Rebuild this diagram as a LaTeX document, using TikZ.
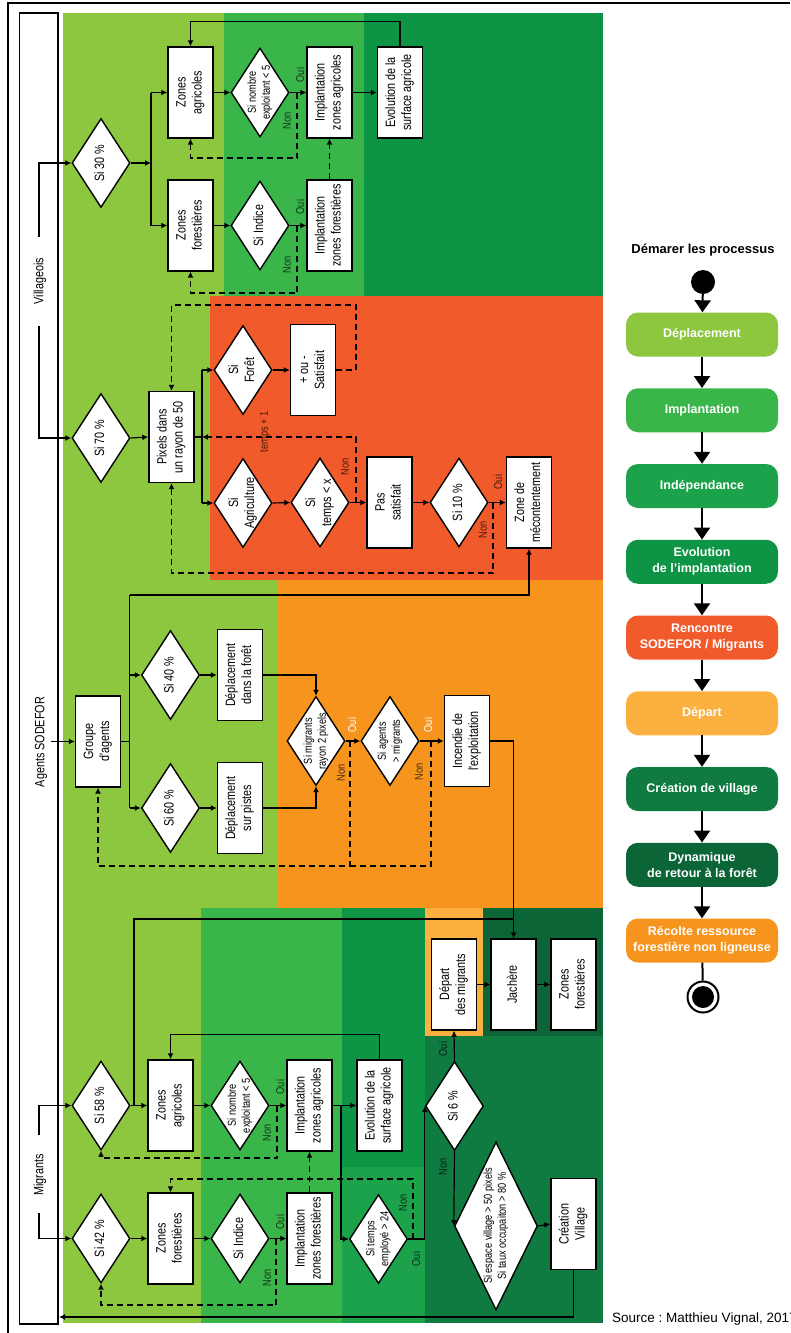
\documentclass[tikz,border=0pt]{standalone}
\usepackage{graphicx}
\usepackage{fontspec}
\setmainfont{Liberation Sans}
\newfontfamily\nar[FakeStretch=0.8]{Liberation Sans}
\usetikzlibrary{shapes.geometric,arrows.meta}
\definecolor{cDep}{HTML}{8DC63F}
\definecolor{cImp}{HTML}{3AB54A}
\definecolor{cInd}{HTML}{1BA24B}
\definecolor{cEvo}{HTML}{0E9445}
\definecolor{cRen}{HTML}{F15A2B}
\definecolor{cDpt}{HTML}{FBB040}
\definecolor{cCre}{HTML}{0F7B41}
\definecolor{cDyn}{HTML}{0B6536}
\definecolor{cRec}{HTML}{F7941D}
\newcommand\rtx[1]{\smash{\makebox[0pt]{\raisebox{-0.5\height}{\rotatebox{90}{\begin{tabular}{@{}c@{}}#1\end{tabular}}}}}}
\frenchspacing
\tikzset{
 ln/.style={line width=1.2pt},
 dsh/.style={line width=1.2pt, dash pattern=on 6pt off 4pt},
 bx/.style={draw, fill=white, line width=1.4pt, rectangle, minimum width=45pt, minimum height=91pt, inner sep=0pt, font={\nar\fontsize{13.5}{16}\selectfont}},
 dm/.style={draw, fill=white, line width=1.4pt, diamond, minimum width=58pt, minimum height=89pt, inner sep=0pt, font={\nar\fontsize{13.5}{16}\selectfont}},
 sm/.style={font={\nar\fontsize{11.5}{14}\selectfont}},
 lbl/.style={rotate=90, inner sep=0pt, font={\nar\fontsize{11.5}{13}\selectfont}, text opacity=0.7},
 wlbl/.style={rotate=90, inner sep=0pt, font={\nar\fontsize{11.5}{13}\selectfont}, text=white},
 lanetxt/.style={rotate=90, inner sep=0pt, font={\nar\fontsize{13.5}{16}\selectfont}},
 pill/.style={rounded corners=12pt, minimum width=152pt, minimum height=44pt, inner sep=0pt, text=white, align=center, font={\bfseries\fontsize{12.5}{16}\selectfont}},
 larr/.style={line width=2pt, -{Triangle[length=12pt,width=16pt]}},
}
\begin{document}
\begin{tikzpicture}[x=1pt,y=-1pt,>={Latex[length=6pt,width=6pt]}]
\useasboundingbox (0,0) rectangle (790,1333);
\fill[white] (0,0) rectangle (790,1333);
% backgrounds
\fill[cDep] (63,13) rectangle (603,1323);
\fill[cImp] (224,13) rectangle (364,296);
\fill[cEvo] (364,13) rectangle (603,296);
\fill[cRen] (210,296) rectangle (603,580);
\fill[cRec] (278,580) rectangle (603,908);
\fill[cImp] (201,908) rectangle (342,1323);
\fill[cEvo] (342,908) rectangle (425,1167);
\fill[cInd] (342,1167) rectangle (425,1323);
\fill[cDpt] (425,908) rectangle (482.5,1036);
\fill[cDyn] (482.5,908) rectangle (603,1036);
\fill[cCre] (425,1036) rectangle (603,1323);
% frame
\draw[line width=1.5pt] (8,1333) -- (8,3) -- (790,3);
\node[draw, fill=white, line width=1.2pt, minimum width=38.5pt, minimum height=1311pt, inner sep=0pt] (lane) at (38.75,668.5) {};
\node[lanetxt] (lv) at (40,281) {Villageois};
\node[lanetxt] (ls) at (41,742) {Agents SODEFOR};
\node[lanetxt] (lm) at (40,1175) {Migrants};

% ===== Villageois 30 %
\node[dm] (s30) at (101,163) {\rtx{Si 30 \%}};
\node[bx] (za1) at (190.5,92.5) {\rtx{Zones\\agricoles}};
\node[dm,sm] (sn1) at (260,92.5) {\rtx{Si nombre\\exploitant < 5}};
\node[bx] (iza1) at (329.5,92.5) {\rtx{Implantation\\zones agricoles}};
\node[bx] (ev1) at (400,92.5) {\rtx{Evolution de la\\surface agricole}};
\node[bx] (zf1) at (190.5,225.5) {\rtx{Zones\\forestières}};
\node[dm] (si1) at (260,225.5) {\rtx{Si Indice}};
\node[bx] (izf1) at (329.5,225.5) {\rtx{Implantation\\zones forestières}};

\coordinate (v1) at (39,237);
\draw[ln,->] (v1) |- (s30.west);
\coordinate (b1) at (151,163);
\draw[ln,->] (s30.east) -- (b1);
\draw[ln] (za1.west -| b1) -- (zf1.west -| b1);
\draw[ln,->] (za1.west -| b1) -- (za1.west);
\draw[ln,->] (zf1.west -| b1) -- (zf1.west);
\draw[ln,->] (za1.east) -- (sn1.west);
\draw[ln,->] (sn1.east) -- (iza1.west);
\coordinate (n1) at (297,92.5);
\draw[dsh,->] (n1) -- ++(0,65.5) -| (za1.south);
\draw[ln,->] (iza1.east) -- (ev1.west);
\draw[ln,->] (ev1.north) -- ++(0,-25) -| (za1.north);
\draw[ln,->] (zf1.east) -- (si1.west);
\draw[ln,->] (si1.east) -- (izf1.west);
\coordinate (n2) at (297,225.5);
\draw[dsh,->] (n2) -- ++(0,67.5) -| (zf1.south);
\draw[dsh,->] (izf1.north) -- (iza1.south);
\node[lbl] (o1) at (300,75) {Oui};
\node[lbl] (x1) at (287,121) {Non};
\node[lbl] (o2) at (300,207) {Oui};
\node[lbl] (x2) at (287,265) {Non};

% ===== Villageois 70 %
\node[dm] (s70) at (101,438) {\rtx{Si 70 \%}};
\node[bx] (pix) at (171.5,437) {\rtx{Pixels dans\\un rayon de 50}};
\node[dm] (sfo) at (243,370) {\rtx{Si\\Forêt}};
\node[bx] (sat) at (313,370) {\rtx{+ ou -\\Satisfait}};
\node[dm] (sag) at (243,503) {\rtx{Si\\Agriculture}};
\node[dm] (stx) at (320,502.5) {\rtx{Si\\temps < x}};
\node[bx] (pas) at (389.5,502.5) {\rtx{Pas\\satisfait}};
\node[dm] (s10) at (459,502.5) {\rtx{Si 10 \%}};
\node[bx] (zdm) at (529,502.5) {\rtx{Zone de\\mécontentement}};

\coordinate (v2) at (39,326);
\draw[ln,->] (v2) |- (s70.west);
\draw[ln,->] (s70.east) -- (pix.west);
\coordinate (b2) at (202,437);
\draw[ln] (pix.east) -- (b2);
\draw[ln] (sfo.west -| b2) -- (sag.west -| b2);
\draw[ln,->] (sfo.west -| b2) -- (sfo.west);
\draw[ln,->] (sag.west -| b2) -- (sag.west);
\draw[ln,->] (sfo.east) -- (sat.west);
\coordinate (d1) at (356,305);
\draw[dsh,->] (sat.east) -| (d1) -| (pix.north);
\draw[ln,->] (sag.east) -- (stx.west);
\draw[ln,->] (stx.east) -- (pas.west);
\coordinate (n3) at (356,502.5);
\draw[dsh,->] (n3) |- (b2);
\node[lbl] (t1) at (265,432) {temps + 1};
\node[lbl] (x3) at (345,467) {Non};
\draw[ln,->] (pas.east) -- (s10.west);
\draw[ln,->] (s10.east) -- (zdm.west);
\coordinate (n4) at (493,502.5);
\coordinate (d2) at (171.5,573);
\draw[dsh,->] (n4) |- (d2) -- (pix.south);
\node[lbl] (o3) at (498,482) {Oui};
\node[lbl] (x4) at (483,530) {Non};

% ===== SODEFOR
\node[bx] (grp) at (98,741.5) {\rtx{Groupe\\d'agents}};
\node[dm] (s40) at (170.5,675) {\rtx{Si 40 \%}};
\node[bx] (ddf) at (240,675) {\rtx{Déplacement\\dans la forêt}};
\node[dm] (s60) at (170.5,808) {\rtx{Si 60 \%}};
\node[bx] (dsp) at (240,808) {\rtx{Déplacement\\sur pistes}};
\node[dm,sm] (smg) at (316,741) {\rtx{Si migrants\\rayon 2 pixels}};
\node[dm,sm] (sam) at (390,741) {\rtx{Si agents\\> migrants}};
\node[bx] (inc) at (467,741) {\rtx{Incendie de\\l'exploitation}};

\coordinate (v3) at (51,741.5);
\draw[ln,->] (v3) -- (grp.west);
\coordinate (b3) at (129.6,741.5);
\coordinate (b3t) at (129.6,595);
\draw[ln] (grp.east) -- (b3);
\draw[ln] (b3t) -- (s60.west -| b3);
\draw[ln,->] (s40.west -| b3) -- (s40.west);
\draw[ln,->] (s60.west -| b3) -- (s60.west);
\draw[ln,->] (b3t) -| (zdm.south);
\draw[ln,->] (s40.east) -- (ddf.west);
\draw[ln,->] (s60.east) -- (dsp.west);
\draw[ln,->] (ddf.east) -| (smg.north);
\draw[ln,->] (dsp.east) -| (smg.south);
\draw[ln,->] (smg.east) -- (sam.west);
\draw[ln,->] (sam.east) -- (inc.west);
\coordinate (n5) at (350,741);
\coordinate (d3) at (98,866);
\draw[dsh,->] (n5) |- (d3) -- (grp.south);
\coordinate (n6) at (431,741);
\draw[dsh] (n6) |- (n5 |- d3);
\node[wlbl] (o4) at (352,725) {Oui};
\node[lbl] (x5) at (341,773) {Non};
\node[wlbl] (o5) at (428,725) {Oui};
\node[lbl] (x6) at (419,772) {Non};

% ===== Migrants
\node[dm] (s58) at (101,1105.5) {\rtx{Si 58 \%}};
\node[bx] (za2) at (170.5,1105.5) {\rtx{Zones\\agricoles}};
\node[dm,sm] (sn2) at (240,1105.5) {\rtx{Si nombre\\exploitant < 5}};
\node[bx] (iza2) at (309.5,1105.5) {\rtx{Implantation\\zones agricoles}};
\node[bx] (ev2) at (379.5,1105.5) {\rtx{Evolution de la\\surface agricole}};
\node[dm] (s6) at (454.5,1106) {\rtx{Si 6 \%}};
\node[bx] (dep) at (454,984.5) {\rtx{Départ\\des migrants}};
\node[bx] (jac) at (513.6,984.5) {\rtx{Jachère}};
\node[bx] (zf3) at (573.5,984.5) {\rtx{Zones\\forestières}};
\node[dm] (s42) at (101,1238.5) {\rtx{Si 42 \%}};
\node[bx] (zf2) at (170.5,1238.5) {\rtx{Zones\\forestières}};
\node[dm] (si2) at (240,1238.5) {\rtx{Si Indice}};
\node[bx] (izf2) at (309.5,1238.5) {\rtx{Implantation\\zones forestières}};
\node[dm,sm] (ste) at (378.5,1239) {\rtx{Si temps\\employé > 24}};
\node[dm,sm, minimum width=83pt, minimum height=168pt] (sev) at (496,1226) {\rtx{Si espace village > 50 pixels\\Si taux occupaiton > 80 \%}};
\node[bx] (cv) at (573.5,1224) {\rtx{Création\\Village}};

\draw[ln,->] (inc.east) -| (jac.north);
\coordinate (v4) at (39,1135);
\draw[ln,->] (v4) |- (s58.west);
\draw[ln,->] (s58.east) -- (za2.west);
\coordinate (b4) at (134,1105.5);
\coordinate (b4t) at (134,919);
\draw[ln] (b4) -- (b4t) -- (b4t -| jac.north);
\draw[ln,->] (za2.east) -- (sn2.west);
\draw[ln,->] (sn2.east) -- (iza2.west);
\coordinate (n7) at (277,1105.5);
\coordinate (d4) at (101,1158);
\draw[dsh,->] (n7) |- (d4) -- (s58.south);
\draw[ln,->] (iza2.east) -- (ev2.west);
\coordinate (b5) at (341,1105.5);
\draw[ln,->] (b5) |- (ste.west);
\draw[ln,->] (ev2.north) -- ++(0,-24.5) -| (za2.north);
\draw[ln,->] (s6.north) -- (dep.south);
\draw[ln,->] (dep.east) -- (jac.west);
\draw[ln,->] (jac.east) -- (zf3.west);
\draw[ln,->] (s6.south) -- (sev.west);
\draw[ln,->] (ste.east) -| (s6.west);
\coordinate (n8) at (413,1239);
\coordinate (d5) at (170.5,1179);
\draw[dsh,->] (n8) |- (d5) -- (zf2.north);
\draw[dsh,->] (izf2.north) -- (iza2.south);
\draw[ln,->] (s42.east) -- (zf2.west);
\draw[ln,->] (zf2.east) -- (si2.west);
\draw[ln,->] (si2.east) -- (izf2.west);
\coordinate (n9) at (276,1238.5);
\coordinate (d6) at (101,1305);
\draw[dsh,->] (n9) |- (d6) -- (s42.south);
\coordinate (v5) at (39,1213);
\draw[ln,->] (v5) |- (s42.west);
\draw[ln,->] (sev.east) -- (cv.west);
\coordinate (e1) at (59,1317);
\draw[ln,->] (cv.south) |- (e1);
\node[lbl] (o6) at (280,1087) {Oui};
\node[lbl] (x7) at (267,1133) {Non};
\node[lbl] (o7) at (443,1049) {Oui};
\node[lbl] (x8) at (443,1167) {Non};
\node[lbl] (o8) at (416,1259) {Oui};
\node[lbl] (x9) at (403,1203) {Non};
\node[lbl] (o9) at (280,1222) {Oui};
\node[lbl] (x10) at (267,1278) {Non};

\node[anchor=base west, inner sep=0pt, font=\fontsize{13.5}{16}\selectfont] (src) at (612,1322) {Source : Matthieu Vignal, 2017};

% ===== Legend
\node[font={\bfseries\fontsize{13}{16}\selectfont}, inner sep=0pt] (title) at (703,250) {Démarer les processus};
\node[circle, fill=black, minimum size=24pt, inner sep=0pt] (st) at (703,282) {};
\node[pill, fill=cDep] (p1) at (702,334.5) {Déplacement};
\node[pill, fill=cImp] (p2) at (702,410.25) {Implantation};
\node[pill, fill=cInd] (p3) at (702,486) {Indépendance};
\node[pill, fill=cEvo] (p4) at (702,561.75) {Evolution\\de l’implantation};
\node[pill, fill=cRen] (p5) at (702,637.5) {Rencontre\\SODEFOR / Migrants};
\node[pill, fill=cDpt] (p6) at (702,713.25) {Départ};
\node[pill, fill=cCre] (p7) at (702,789) {Création de village};
\node[pill, fill=cDyn] (p8) at (702,864.75) {Dynamique\\de retour à la forêt};
\node[pill, fill=cRec] (p9) at (702,940.5) {Récolte ressource\\forestière non ligneuse};
\node[circle, draw, line width=2pt, minimum size=31pt, inner sep=0pt] (en) at (703,997) {};
\node[circle, fill=black, minimum size=22pt, inner sep=0pt] (enc) at (en) {};
\draw[larr] (st) -- (p1);
\draw[larr] (p1) -- (p2);
\draw[larr] (p2) -- (p3);
\draw[larr] (p3) -- (p4);
\draw[larr] (p4) -- (p5);
\draw[larr] (p5) -- (p6);
\draw[larr] (p6) -- (p7);
\draw[larr] (p7) -- (p8);
\draw[larr] (p8) -- (p9);
\draw[line width=2pt] (p9) -- (en);
\end{tikzpicture}
\end{document}
